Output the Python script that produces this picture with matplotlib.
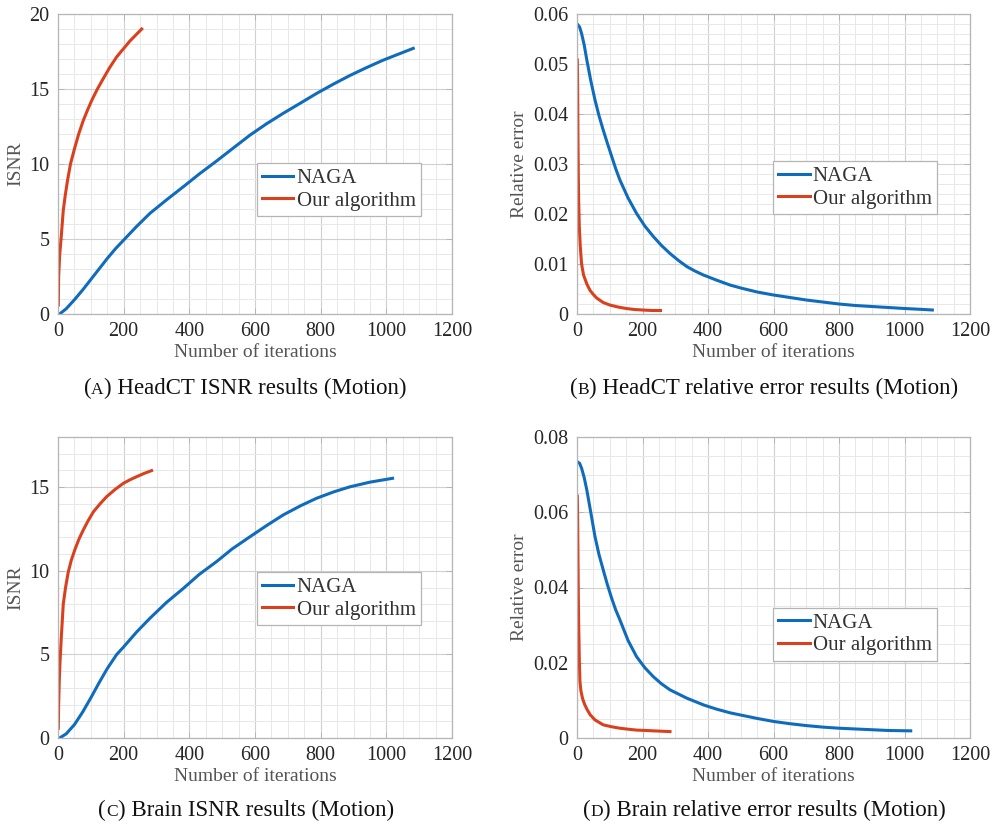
import matplotlib
matplotlib.use("Agg")
import matplotlib.pyplot as plt
from matplotlib.ticker import MultipleLocator, FuncFormatter
from matplotlib.offsetbox import TextArea, HPacker, AnnotationBbox

plt.rcParams['font.family'] = ['Liberation Serif', 'DejaVu Serif']

# ---------------- data ----------------
a_naga_x = [5, 25, 50, 75, 100, 125, 150, 175, 200, 240, 280, 330, 382, 430, 483, 530, 585, 635, 686, 740, 788, 840, 889, 940, 991, 1040, 1082]
a_naga_y = [0, 0.35, 0.95, 1.6, 2.3, 3.0, 3.7, 4.35, 4.93, 5.85, 6.71, 7.6, 8.49, 9.33, 10.2, 11.0, 11.93, 12.68, 13.38, 14.08, 14.71, 15.34, 15.9, 16.43, 16.93, 17.35, 17.71]
a_our_x = [1, 2, 5, 10, 16, 22, 29, 38, 50, 63, 77, 90, 103, 120, 138, 158, 179, 200, 219, 237, 255]
a_our_y = [0.6, 2.5, 3.9, 5.2, 6.9, 7.9, 8.9, 10.0, 11.0, 12.0, 12.9, 13.6, 14.25, 15.0, 15.7, 16.45, 17.15, 17.7, 18.2, 18.6, 19.0]

b_naga_x = [3, 8, 14, 22, 30, 42, 55, 67, 80, 93, 106, 118, 131, 156, 182, 207, 233, 258, 284, 310, 335, 360, 386, 425, 467, 500, 550, 600, 650, 700, 750, 800, 850, 900, 950, 1000, 1045, 1085]
b_naga_y = [0.0578, 0.0574, 0.0561, 0.0538, 0.0508, 0.0467, 0.0428, 0.0397, 0.0368, 0.0341, 0.0315, 0.0291, 0.0268, 0.0232, 0.0201, 0.0176, 0.0155, 0.0137, 0.0121, 0.0107, 0.0095, 0.0086, 0.0078, 0.0068, 0.0058, 0.0052, 0.0044, 0.0038, 0.0033, 0.0028, 0.0024, 0.0020, 0.0017, 0.0015, 0.0013, 0.0011, 0.00095, 0.0008]
b_our_x = [1, 2, 3, 4, 5, 7, 10, 14, 20, 30, 40, 50, 60, 80, 100, 125, 150, 175, 200, 228, 255]
b_our_y = [0.0508, 0.045, 0.035, 0.028, 0.023, 0.0175, 0.0135, 0.0100, 0.0078, 0.0060, 0.0047, 0.0039, 0.0032, 0.0023, 0.0018, 0.0014, 0.0011, 0.0009, 0.0008, 0.0007, 0.0007]

c_naga_x = [5, 25, 50, 75, 100, 125, 150, 179, 200, 240, 280, 330, 382, 430, 483, 530, 585, 635, 686, 740, 788, 840, 889, 950, 1019]
c_naga_y = [0, 0.25, 0.8, 1.55, 2.4, 3.3, 4.15, 5.0, 5.45, 6.35, 7.16, 8.1, 8.95, 9.78, 10.55, 11.3, 12.04, 12.7, 13.34, 13.9, 14.34, 14.72, 15.02, 15.3, 15.53]
c_our_x = [1, 2, 4, 6, 10, 16, 23, 31, 40, 52, 64, 77, 92, 108, 128, 148, 173, 199, 220, 240, 262, 285]
c_our_y = [0.58, 2.0, 3.5, 4.5, 6.0, 8.0, 9.0, 9.9, 10.6, 11.3, 11.9, 12.44, 13.0, 13.53, 14.0, 14.43, 14.85, 15.23, 15.45, 15.63, 15.82, 15.99]

d_naga_x = [3, 8, 14, 22, 30, 42, 55, 67, 80, 93, 106, 118, 131, 156, 182, 207, 233, 258, 284, 335, 386, 425, 467, 500, 550, 600, 650, 700, 750, 800, 850, 900, 950, 1019]
d_naga_y = [0.0733, 0.0730, 0.0717, 0.0692, 0.0659, 0.0600, 0.0535, 0.0488, 0.0447, 0.0407, 0.0371, 0.0341, 0.0314, 0.0259, 0.0216, 0.0187, 0.0163, 0.0144, 0.0128, 0.0106, 0.0088, 0.0077, 0.0067, 0.0061, 0.0052, 0.0044, 0.0038, 0.0033, 0.0029, 0.0026, 0.0024, 0.0022, 0.0020, 0.0019]
d_our_x = [1, 2, 3, 4, 5, 7, 9, 12, 17, 23, 30, 40, 55, 80, 105, 131, 160, 182, 210, 233, 260, 284]
d_our_y = [0.0643, 0.058, 0.048, 0.038, 0.031, 0.021, 0.0150, 0.0125, 0.0105, 0.0090, 0.0077, 0.0062, 0.0048, 0.0035, 0.0030, 0.0026, 0.0023, 0.0021, 0.0020, 0.0019, 0.0018, 0.0017]

series_labels = ["NAGA", "Our algorithm"]
x_label = "Number of iterations"
captions = [("A", "HeadCT ISNR results (Motion)"),
            ("B", "HeadCT relative error results (Motion)"),
            ("C", "Brain ISNR results (Motion)"),
            ("D", "Brain relative error results (Motion)")]

BLUE = "#0F6CBD"
RED = "#D9411E"
TXT = "#262626"

W, H = 997, 826
fig = plt.figure(figsize=(W / 100, H / 100), dpi=100)


def make_axes(px_left, px_right, px_top, px_bottom):
    return fig.add_axes([px_left / W, 1 - px_bottom / H,
                         (px_right - px_left) / W, (px_bottom - px_top) / H])


def fmt_err(v, pos):
    if abs(v) < 1e-12:
        return "0"
    return f"{v:.2f}"


def style(ax, ylim, ymaj, ymin, ylabel, err=False):
    ax.set_xlim(0, 1200)
    ax.set_ylim(*ylim)
    ax.xaxis.set_major_locator(MultipleLocator(200))
    ax.xaxis.set_minor_locator(MultipleLocator(50))
    ax.yaxis.set_major_locator(MultipleLocator(ymaj))
    ax.yaxis.set_minor_locator(MultipleLocator(ymin))
    if err:
        ax.yaxis.set_major_formatter(FuncFormatter(fmt_err))
    ax.grid(which="major", color="#d0d0d0", linewidth=0.8)
    ax.grid(which="minor", color="#e8e8e8", linewidth=0.7)
    ax.set_axisbelow(True)
    for s in ax.spines.values():
        s.set_color("#b5b5b5")
        s.set_linewidth(0.9)
    ax.tick_params(which="major", direction="in", length=4, width=0.7,
                   color="#b5b5b5", top=True, right=True,
                   labelsize=14.5, labelcolor=TXT, pad=6)
    ax.tick_params(which="minor", length=0, top=True, right=True)
    ax.set_xlabel(x_label, fontsize=14, color="#555555", labelpad=2)
    ax.set_ylabel(ylabel, fontsize=14, color="#555555", labelpad=4)


def add_legend(ax, x0, ytop):
    leg = ax.legend(loc="upper left", bbox_to_anchor=(x0, ytop), borderaxespad=0,
                    fontsize=15, frameon=True, fancybox=False, framealpha=1,
                    edgecolor="#b5b5b5", handlelength=1.5, handletextpad=0.15,
                    borderpad=0.25, labelspacing=0.15)
    leg.get_frame().set_linewidth(0.9)
    for t in leg.get_texts():
        t.set_color("#333333")


LW = 2.2

axA = make_axes(58, 452, 14, 314)
axA.plot(a_naga_x, a_naga_y, color=BLUE, lw=LW, label=series_labels[0])
axA.plot(a_our_x, a_our_y, color=RED, lw=LW, label=series_labels[1])
style(axA, (0, 20), 5, 1, "ISNR")
add_legend(axA, 0.505, 0.503)

axB = make_axes(577, 970, 14, 314)
axB.plot(b_naga_x, b_naga_y, color=BLUE, lw=LW, label=series_labels[0])
axB.plot(b_our_x, b_our_y, color=RED, lw=LW, label=series_labels[1])
style(axB, (0, 0.06), 0.01, 0.002, "Relative error", err=True)
add_legend(axB, 0.499, 0.51)

axC = make_axes(58, 452, 437, 738)
axC.plot(c_naga_x, c_naga_y, color=BLUE, lw=LW, label=series_labels[0])
axC.plot(c_our_x, c_our_y, color=RED, lw=LW, label=series_labels[1])
style(axC, (0, 18), 5, 1, "ISNR")
add_legend(axC, 0.505, 0.551)

axD = make_axes(577, 970, 437, 738)
axD.plot(d_naga_x, d_naga_y, color=BLUE, lw=LW, label=series_labels[0])
axD.plot(d_our_x, d_our_y, color=RED, lw=LW, label=series_labels[1])
style(axD, (0, 0.08), 0.02, 0.005, "Relative error", err=True)
add_legend(axD, 0.499, 0.432)


def caption(cx, cy, letter, rest):
    fam = ["Liberation Serif", "DejaVu Serif"]
    parts = [TextArea("(", textprops=dict(fontsize=16.5, family=fam, color="#111111")),
             TextArea(letter, textprops=dict(fontsize=12.5, family=fam, color="#111111")),
             TextArea(") " + rest, textprops=dict(fontsize=16.5, family=fam, color="#111111"))]
    box = HPacker(children=parts, align="baseline", pad=0, sep=0)
    ab = AnnotationBbox(box, (cx / W, 1 - cy / H), xycoords="figure fraction",
                        frameon=False, box_alignment=(0.5, 0.5), pad=0)
    fig.add_artist(ab)


caption(245, 388, *captions[0])
caption(764, 388, *captions[1])
caption(246, 810, *captions[2])
caption(764, 810, *captions[3])

fig.savefig("out.png", dpi=100)
